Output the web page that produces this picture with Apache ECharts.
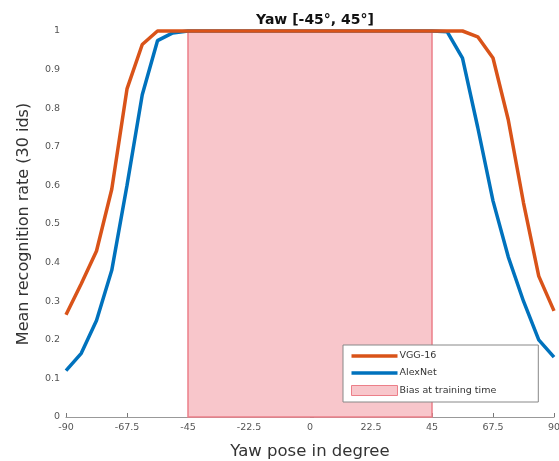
<!DOCTYPE html>
<html>
<head>
<meta charset="utf-8">
<script src="https://cdn.jsdelivr.net/npm/echarts@6/dist/echarts.min.js"></script>
<style>html,body{margin:0;padding:0;background:#fff}#c{width:559px;height:461px}</style>
</head>
<body>
<div id="c"></div>
<script>
var yawDeg = [-90, -84.375, -78.75, -73.125, -67.5, -61.875, -56.25, -50.625, -45, -39.375, -33.75, -28.125, -22.5, -16.875, -11.25, -5.625, 0, 5.625, 11.25, 16.875, 22.5, 28.125, 33.75, 39.375, 45, 50.625, 56.25, 61.875, 67.5, 73.125, 78.75, 84.375, 90];
var vgg16 = [0.265, 0.345, 0.43, 0.59, 0.85, 0.965, 1.0, 1.0, 1, 1, 1, 1, 1, 1, 1, 1, 1, 1, 1, 1, 1, 1, 1, 1, 1, 1.0, 1.0, 0.985, 0.93, 0.77, 0.555, 0.365, 0.275];
var alexnet = [0.12, 0.165, 0.25, 0.38, 0.60, 0.835, 0.975, 0.995, 1, 1, 1, 1, 1, 1, 1, 1, 1, 1, 1, 1, 1, 1, 1, 1, 1, 0.998, 0.93, 0.75, 0.56, 0.415, 0.30, 0.20, 0.155];
var biasRange = [-45, 45];
var xTicks = ['-90', '-67.5', '-45', '-22.5', '0', '22.5', '45', '67.5', '90'];
var seriesNames = ['VGG-16', 'AlexNet', 'Bias at training time'];

function pairs(vals) { return yawDeg.map(function (x, i) { return [x, vals[i]]; }); }

var chart = echarts.init(document.getElementById('c'), null, { renderer: 'canvas' });
var axisLabelStyle = { color: '#555', fontSize: 9.5, fontFamily: 'DejaVu Sans' };
var lineIcon = 'path://M0 0H46V3.5H0Z';
chart.setOption({
  animation: false,
  backgroundColor: '#fff',
  title: {
    text: 'Yaw [-45°, 45°]',
    left: 310, top: 8, textAlign: 'center',
    textStyle: { fontSize: 14, fontWeight: 'bold', color: '#111', fontFamily: 'DejaVu Sans' }
  },
  grid: { left: 66, right: 5, top: 31, bottom: 44, containLabel: false, outerBoundsMode: 'none' },
  legend: {
    orient: 'vertical', left: 343, top: 345,
    backgroundColor: '#fff', borderColor: '#888', borderWidth: 1,
    padding: [6, 42, 6, 8], itemGap: 7,
    itemWidth: 46, itemHeight: 10,
    textStyle: { fontSize: 9.5, color: '#333', fontFamily: 'DejaVu Sans', padding: [0, 0, 0, -3] },
    data: [
      { name: seriesNames[0], icon: lineIcon, itemStyle: { color: '#D95319' } },
      { name: seriesNames[1], icon: lineIcon, itemStyle: { color: '#0072BD' } },
      { name: seriesNames[2], icon: 'rect', itemStyle: { color: '#f8c6cb', borderColor: '#ec7f89', borderWidth: 1 } }
    ]
  },
  xAxis: {
    type: 'value', min: -90, max: 90, interval: 22.5,
    axisLine: { lineStyle: { color: '#999', width: 1.2 } },
    axisTick: { inside: true, length: 4, lineStyle: { color: '#777' } },
    splitLine: { show: false },
    axisLabel: Object.assign({ margin: 6, formatter: function (v) { var i = xTicks.indexOf(String(v)); return i >= 0 ? xTicks[i] : String(v); } }, axisLabelStyle),
    name: 'Yaw pose in degree', nameLocation: 'middle', nameGap: 26,
    nameTextStyle: { fontSize: 16.5, color: '#333', fontFamily: 'DejaVu Sans' }
  },
  yAxis: {
    type: 'value', min: 0, max: 1, interval: 0.1,
    axisLine: { show: true, lineStyle: { color: '#999', width: 1.2 } },
    axisTick: { show: true, inside: true, length: 4, lineStyle: { color: '#777' } },
    splitLine: { show: false },
    axisLabel: Object.assign({ margin: 6, formatter: function (v) { return String(Math.round(v * 10) / 10); } }, axisLabelStyle),
    name: 'Mean recognition rate (30 ids)', nameLocation: 'middle', nameGap: 34,
    nameTextStyle: { fontSize: 16, color: '#333', fontFamily: 'DejaVu Sans' }
  },
  series: [
    {
      name: seriesNames[2], type: 'line', data: [], symbol: 'none',
      itemStyle: { color: '#f8c6cb' },
      markArea: {
        silent: true,
        itemStyle: { color: '#f8c6cb', borderColor: '#ec7f89', borderWidth: 1.5 },
        data: [[{ xAxis: biasRange[0] }, { xAxis: biasRange[1] }]]
      },
      z: 1
    },
    {
      name: seriesNames[0], type: 'line', data: pairs(vgg16), symbol: 'none', clip: false,
      lineStyle: { color: '#D95319', width: 3.5 }, itemStyle: { color: '#D95319' }, z: 3
    },
    {
      name: seriesNames[1], type: 'line', data: pairs(alexnet), symbol: 'none', clip: false,
      lineStyle: { color: '#0072BD', width: 3.5 }, itemStyle: { color: '#0072BD' }, z: 2
    }
  ]
});
</script>
</body>
</html>
